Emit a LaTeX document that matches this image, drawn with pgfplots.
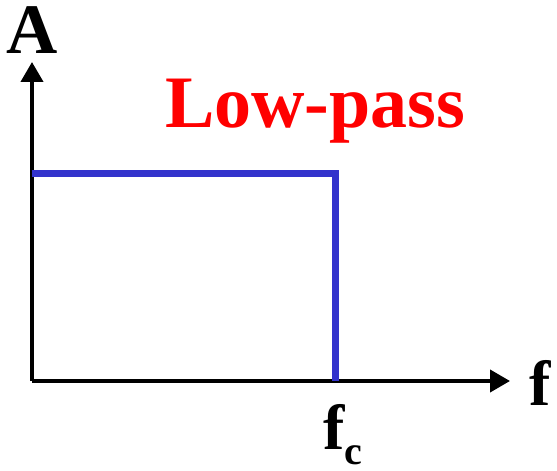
\documentclass[border=0pt]{standalone}
\usepackage{pgfplots}
\pgfplotsset{compat=1.18}
\usetikzlibrary{arrows.meta}
\usepackage{fontspec}
\setmainfont{Liberation Serif}
\definecolor{lpblue}{RGB}{51,51,204}
\begin{document}
\begin{tikzpicture}
\begin{axis}[
  x=1pt, y=1pt,
  xmin=0, xmax=478, ymin=0, ymax=319,
  axis lines=left,
  axis line style={line width=4pt, black},
  x axis line style={-{Triangle[length=20pt,width=22pt]}},
  y axis line style={-{Triangle[length=20pt,width=22pt]}},
  xtick=\empty, ytick=\empty,
  clip=false,
]
\addplot[lpblue, line width=7pt, line join=miter, mark=none] coordinates {(0,207) (303,207) (303,0)};
\node[anchor=base, inner sep=0pt, font=\bfseries\fontsize{71}{71}\selectfont] at (axis cs:0,327) {A};
\node[anchor=base, inner sep=0pt, font=\bfseries\fontsize{64}{64}\selectfont] at (axis cs:508,-24) {f};
\node[anchor=base west, inner sep=0pt, font=\bfseries\fontsize{64}{64}\selectfont] at (axis cs:291,-68) {f\raisebox{-15pt}{\fontsize{40}{40}\selectfont c}};
\node[anchor=base west, text=red, inner sep=0pt, font=\bfseries\fontsize{74}{74}\selectfont] at (axis cs:133,253) {Low-pass};
\path (axis cs:-32,-90) rectangle (axis cs:525,381);
\end{axis}
\end{tikzpicture}
\end{document}
